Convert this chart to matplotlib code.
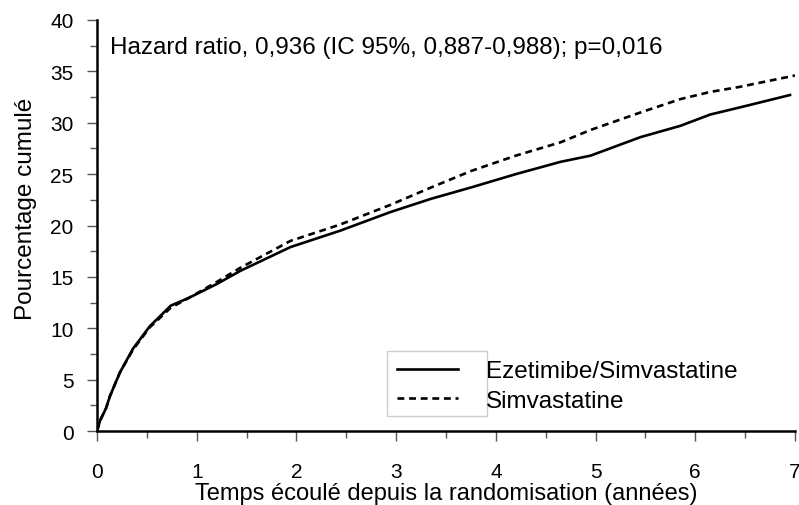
import matplotlib
matplotlib.use('Agg')
import matplotlib.pyplot as plt
from matplotlib.patches import Rectangle
from matplotlib.ticker import MultipleLocator

plt.rcParams['font.family'] = ['Liberation Sans', 'DejaVu Sans']
plt.rcParams['xtick.labelsize'] = 15
plt.rcParams['ytick.labelsize'] = 15

# courbes (années, % cumulé)
temps_eze = [0, 0.03, 0.07, 0.09, 0.13, 0.23, 0.36, 0.53, 0.74, 0.93, 1.2, 1.44,
             1.94, 2.44, 2.94, 3.35, 3.75, 4.2, 4.65, 4.95, 5.45, 5.85, 6.15, 6.45, 6.95]
pct_eze = [0, 1.0, 1.8, 2.2, 3.4, 5.7, 8.0, 10.2, 12.2, 13.0, 14.3, 15.6,
           17.9, 19.5, 21.3, 22.6, 23.7, 25.0, 26.2, 26.8, 28.6, 29.7, 30.8, 31.5, 32.7]

temps_simva = [0, 0.03, 0.07, 0.09, 0.13, 0.23, 0.36, 0.53, 0.74, 0.93, 1.2, 1.44,
               1.94, 2.44, 2.94, 3.35, 3.75, 4.2, 4.65, 4.95, 5.45, 5.85, 6.15, 6.45, 7.0]
pct_simva = [0, 1.0, 1.8, 2.2, 3.4, 5.7, 7.9, 10.1, 12.0, 13.0, 14.5, 15.9,
             18.5, 20.1, 22.0, 23.7, 25.3, 26.8, 28.1, 29.3, 31.0, 32.3, 33.0, 33.5, 34.6]

labels = ['Ezetimibe/Simvastatine', 'Simvastatine']
titre_hr = 'Hazard ratio, 0,936 (IC 95%, 0,887-0,988); p=0,016'

fig = plt.figure(figsize=(7.99, 5.06), dpi=100)
ax = fig.add_axes([0.1214, 0.1462, 0.8736, 0.8123])

l1, = ax.plot(temps_eze, pct_eze, color='k', lw=1.9, solid_joinstyle='round')
l2, = ax.plot(temps_simva, pct_simva, color='k', lw=1.9, linestyle=(0, (2.6, 1.8)))

ax.set_xlim(0, 7)
ax.set_ylim(0, 40)
ax.xaxis.set_major_locator(MultipleLocator(1))
ax.xaxis.set_minor_locator(MultipleLocator(0.5))
ax.yaxis.set_major_locator(MultipleLocator(5))
ax.yaxis.set_minor_locator(MultipleLocator(2.5))
ax.tick_params(which='major', length=7, width=1, color='#555555')
ax.tick_params(which='minor', length=5, width=1, color='#555555')
ax.tick_params(axis='x', pad=15)
ax.tick_params(axis='y', pad=10)

for s in ['top', 'right']:
    ax.spines[s].set_visible(False)
for s in ['left', 'bottom']:
    ax.spines[s].set_linewidth(1.8)

ax.set_xlabel('Temps écoulé depuis la randomisation (années)', fontsize=17, labelpad=1)
ax.set_ylabel('Pourcentage cumulé', fontsize=17.5)
ax.yaxis.set_label_coords(-0.086, 0.543)

ax.text(0.13, 37.4, titre_hr, fontsize=17.5, va='center', ha='left')

# cadre gris autour des traits seulement
ax.add_patch(Rectangle((0.4155, 0.0365), 0.1432, 0.158, transform=ax.transAxes,
                       fill=False, edgecolor='#cccccc', lw=1))
ax.legend([l1, l2], labels, loc='upper left', bbox_to_anchor=(0.4298, 0.172),
          frameon=False, fontsize=17.5, handlelength=2.5, handletextpad=1.15,
          borderpad=0, borderaxespad=0, labelspacing=0.3)

fig.savefig('out.png', dpi=100)
